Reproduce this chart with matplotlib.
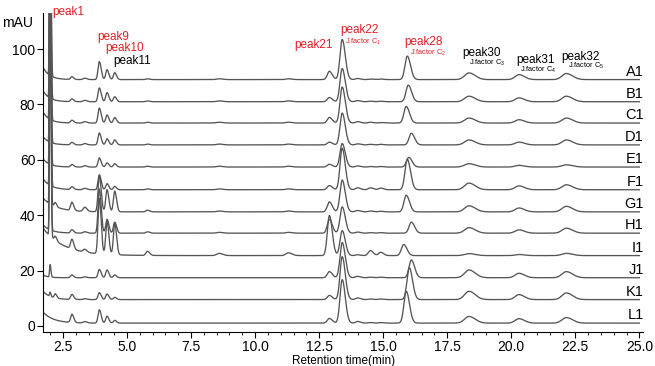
import numpy as np
import matplotlib.pyplot as plt
from matplotlib.ticker import MultipleLocator

plt.rcParams['font.family'] = ['Liberation Sans', 'DejaVu Sans']
plt.rcParams['mathtext.default'] = 'regular'

# ---------------------------------------------------------
# data read from the chromatogram stack
# ---------------------------------------------------------
samples = ['A1', 'B1', 'C1', 'D1', 'E1', 'F1', 'G1', 'H1', 'I1', 'J1', 'K1', 'L1']
baselines = [89.0, 81.0, 73.3, 65.4, 57.4, 49.2, 41.2, 33.5, 25.4, 17.4, 9.5, 1.0]
start_rise = [4.5, 4.0, 4.0, 3.0, 3.0, 4.0, 5.0, 3.0, 10.0, 1.0, 3.0, 4.0]
start_decay = [0.25, 0.25, 0.25, 0.25, 0.25, 0.3, 0.5, 0.3, 0.8, 0.2, 0.3, 0.4]

# peak retention times (min) and widths (min)
rt_peak1, w_peak1 = 2.0, 0.022
rt_b22, rt_b285, rt_b335 = 2.2, 2.85, 3.35
rt_peak9, rt_peak10, rt_peak11 = 3.92, 4.22, 4.52
rt_b58, rt_b86, rt_b113 = 5.8, 8.6, 11.3
rt_peak21, rt_peak22 = 12.9, 13.4
rt_b140, rt_b145, rt_b149 = 14.0, 14.5, 14.9
rt_peak28 = [15.94, 15.98, 15.9, 16.1, 16.0, 15.94, 15.9, 16.1, 15.8, 16.1, 16.02, 15.9]
rt_peak30, rt_peak31, rt_peak32 = 18.35, 20.3, 22.15

# peak heights (mAU) per sample, A1 .. L1
h_peak1 = [100, 100, 100, 100, 100, 100, 100, 100, 100, 4.5, 1.5, 0]
h_b22 = [0, 0, 0, 0, 0, 0, 1.5, 0, 1.5, 0, 1.5, 0]
h_b285 = [1.0, 1.0, 1.0, 0.9, 0.9, 1.0, 3.0, 1.2, 3.5, 1.0, 1.8, 3.0]
h_b335 = [0.5, 0.5, 0.5, 0.5, 0.5, 0.5, 1.5, 0.5, 1.0, 0.3, 0.3, 0.5]
h_peak9 = [6.5, 5.0, 5.4, 4.3, 3.3, 5.4, 13, 16, 20, 3.0, 2.5, 4.8]
h_peak10 = [3.6, 3.3, 2.9, 2.2, 1.5, 2.2, 8, 5, 12, 2.8, 2.0, 2.5]
h_peak11 = [2.5, 1.8, 2.0, 1.8, 1.2, 1.2, 7.5, 4, 11.5, 1.0, 0.8, 1.0]
h_b58 = [0.3, 0.3, 0.3, 0.3, 0.3, 0.3, 0.6, 0.5, 1.5, 0, 0, 0]
h_b86 = [0.3, 0.3, 0.3, 0.3, 0.3, 0.3, 0.3, 0.3, 0.8, 0, 0, 0]
h_b113 = [0.3, 0.3, 0.3, 0.3, 0.3, 0.3, 0.3, 0.3, 1.0, 0, 0, 0]
h_peak21 = [3.0, 1.5, 2.0, 1.0, 1.0, 1.5, 3.6, 5.0, 14.5, 2.2, 1.5, 1.7]
h_peak22 = [14.5, 12, 13, 11.5, 8.5, 15, 11.5, 9.5, 9, 12.7, 15.5, 15.7]
h_b140 = [0.4, 0.4, 0.5, 0.4, 0.4, 0.7, 0.5, 0.4, 0.3, 0.5, 0.6, 0.6]
h_b145 = [0.2, 0.2, 0.3, 0.2, 0.2, 0.7, 0.3, 0.2, 1.8, 0.2, 0.2, 0.2]
h_b149 = [0.2, 0.2, 0.2, 0.2, 0.2, 0.6, 0.2, 0.2, 1.2, 0.2, 0.2, 0.2]
h_peak28 = [8.5, 6, 6, 4.2, 3.5, 11, 6, 4, 4, 6.4, 11.5, 11.5]
h_peak30 = [2.4, 2.0, 1.8, 1.8, 1.2, 2.4, 2.2, 2.0, 0.7, 2.8, 3.0, 2.4]
h_peak31 = [1.8, 1.4, 1.2, 1.0, 0.6, 1.4, 1.4, 1.2, 0.4, 1.6, 1.8, 1.6]
h_peak32 = [2.2, 2.0, 1.8, 1.8, 0.8, 1.8, 2.0, 1.8, 0.8, 2.2, 2.4, 2.0]

# (retention time, width, heights)
peak_table = [
    (rt_peak1, w_peak1, h_peak1),
    (rt_b22, 0.04, h_b22),
    (rt_b285, 0.05, h_b285),
    (rt_b335, 0.06, h_b335),
    (rt_peak9, 0.05, h_peak9),
    (rt_peak10, 0.05, h_peak10),
    (rt_peak11, 0.05, h_peak11),
    (rt_b58, 0.06, h_b58),
    (rt_b86, 0.1, h_b86),
    (rt_b113, 0.1, h_b113),
    (rt_peak21, 0.08, h_peak21),
    (rt_peak22, 0.085, h_peak22),
    (rt_b140, 0.08, h_b140),
    (rt_b145, 0.08, h_b145),
    (rt_b149, 0.08, h_b149),
    (rt_peak28, 0.09, h_peak28),
    (rt_peak30, 0.17, h_peak30),
    (rt_peak31, 0.15, h_peak31),
    (rt_peak32, 0.17, h_peak32),
]

RED = '#e41e26'
t = np.linspace(1.72, 25.0, 5000)


def peak_shape(t, rt, w):
    # slightly tailing gaussian
    s = np.where(t < rt, w, w * 1.4)
    return np.exp(-0.5 * ((t - rt) / s) ** 2)


fig = plt.figure(figsize=(6.55, 3.66), dpi=100)
ax = fig.add_axes([0.0656, 0.093, 0.9164, 0.871])

for i, name in enumerate(samples):
    y = baselines[i] + start_rise[i] * np.exp(-(t - t[0]) / start_decay[i])
    for rt, w, hs in peak_table:
        r = rt[i] if isinstance(rt, list) else rt
        y = y + hs[i] * peak_shape(t, r, w)
    ax.plot(t, y, color='#555555', lw=0.95)
    ax.text(25.17, baselines[i] + 0.3, name, ha='right', va='bottom',
            fontsize=10.5, color='black', clip_on=False)

ax.set_xlim(1.72, 25.15)
ax.set_ylim(-2.2, 113)

for s in ['top', 'right']:
    ax.spines[s].set_visible(False)
for s in ['left', 'bottom']:
    ax.spines[s].set_linewidth(0.8)

ax.set_xticks([2.5, 5.0, 7.5, 10.0, 12.5, 15.0, 17.5, 20.0, 22.5, 25.0])
ax.set_xticklabels(['2.5', '5.0', '7.5', '10.0', '12.5', '15.0', '17.5', '20.0', '22.5', '25.0'])
ax.xaxis.set_minor_locator(MultipleLocator(0.5))
ax.set_yticks([0, 20, 40, 60, 80, 100])
ax.tick_params(axis='both', which='major', direction='out', length=4, width=0.8,
               labelsize=10, pad=1.5)
ax.tick_params(axis='x', which='minor', direction='out', length=2, width=0.6)

ax.set_xlabel('Retention time(min)', fontsize=8.5, labelpad=1)
fig.text(0.003, 0.937, 'mAU', fontsize=10, ha='left', va='center')

# peak annotations: (x, y, text, colour, size)
labels = [
    (2.07, 113.3, 'peak1', RED, 8.5),
    (3.83, 104.5, 'peak9', RED, 8.5),
    (4.14, 100.3, 'peak10', RED, 8.5),
    (4.45, 95.8, 'peak11', 'black', 8.5),
    (11.52, 101.5, 'peak21', RED, 8.5),
    (13.32, 107.0, 'peak22', RED, 8.5),
    (13.52, 102.7, 'J.factor C$_1$', RED, 5.3),
    (15.82, 102.7, 'peak28', RED, 8.5),
    (16.05, 98.7, 'J.factor C$_2$', RED, 5.3),
    (18.09, 98.7, 'peak30', 'black', 8.5),
    (18.35, 95.1, 'J.factor C$_3$', 'black', 5.3),
    (20.2, 96.2, 'peak31', 'black', 8.5),
    (20.35, 92.5, 'J.factor C$_4$', 'black', 5.3),
    (21.95, 97.3, 'peak32', 'black', 8.5),
    (22.2, 93.8, 'J.factor C$_5$', 'black', 5.3),
]
for x, y, txt, col, fs in labels:
    ax.text(x, y, txt, color=col, fontsize=fs, ha='left', va='center', clip_on=False)

fig.savefig('out.png', dpi=100)
